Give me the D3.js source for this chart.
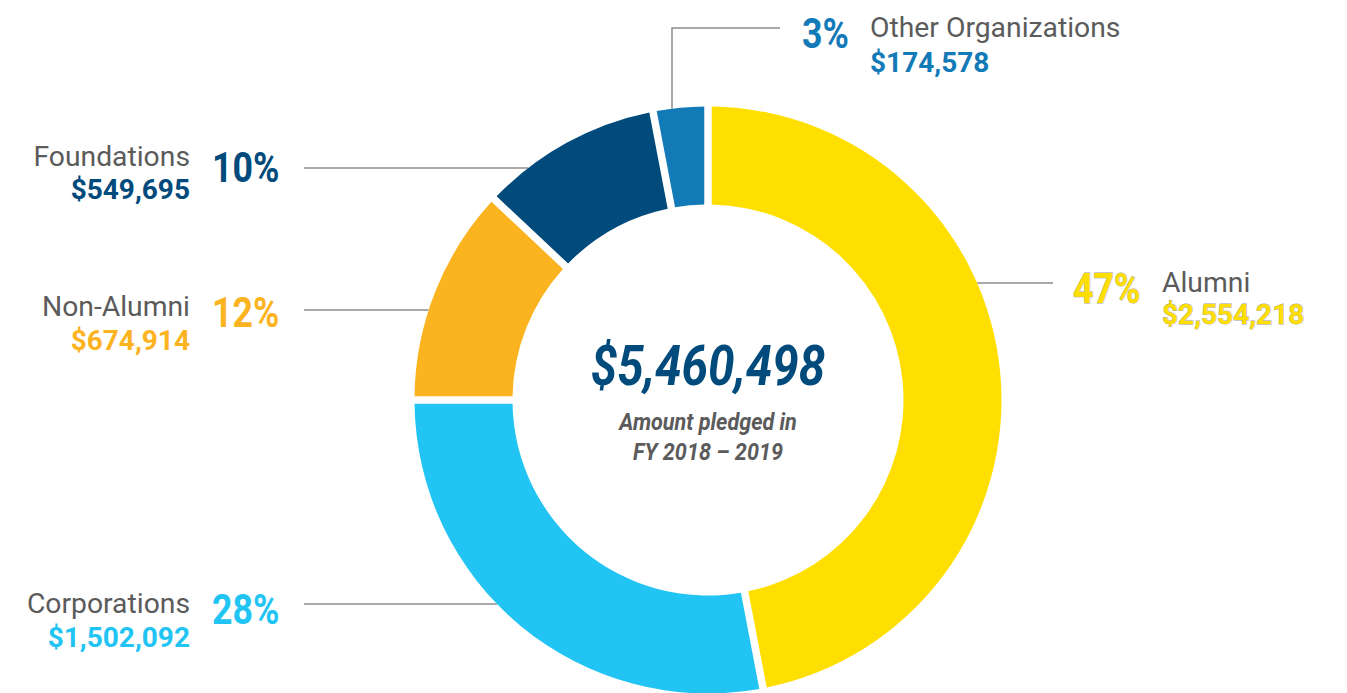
<!DOCTYPE html>
<html>
<head>
<meta charset="utf-8">
<script src="https://cdn.jsdelivr.net/npm/d3@7"></script>
<style>
  body { margin: 0; background: #fff; }
  text { font-family: Roboto, "Open Sans", sans-serif; }
</style>
</head>
<body>
<div id="chart"></div>
<script>
// data
var categories = ["Alumni", "Corporations", "Non-Alumni", "Foundations", "Other Organizations"];
var percents = [47, 28, 12, 10, 3];
var amounts = [2554218, 1502092, 674914, 549695, 174578];
var totalPledged = 5460498;
var centerLines = ["Amount pledged in", "FY 2018 \u2013 2019"];

var palette = ["#ffdf00", "#21c4f3", "#fbb31f", "#004a7c", "#127ab7"];

var width = 1347,
    height = 693;

var cx = 708, cy = 400,
    outerR = 293.5, innerR = 195.5;

var labelGray = "#5b5b5b";
var lineGray = "#8c8c8c";
var condensed = 0.85;

var fmt = d3.format("$,");

var color = d3.scaleOrdinal()
    .domain(categories)
    .range(palette);

var svg = d3.select("#chart").append("svg")
    .attr("width", width)
    .attr("height", height);

var pie = d3.pie()
    .sort(null)
    .value(function (d) { return d.pct; });

var arc = d3.arc()
    .innerRadius(innerR)
    .outerRadius(outerR)
    .padRadius(outerR)
    .padAngle(7.5 / outerR);

var rows = categories.map(function (c, i) {
    return { name: c, pct: percents[i], amount: amounts[i] };
});

// label placement: side, y of leader line, baselines
var layout = {
    "Alumni":              { side: "right", lineY: 283, lineX: 1053, pctX: 1073, pctY: 303, textX: 1162, nameY: 292, valY: 324 },
    "Corporations":        { side: "left", lineY: 604, lineX: 304, pctX: 212, pctY: 624, textX: 190, nameY: 613, valY: 647 },
    "Non-Alumni":          { side: "left", lineY: 310, lineX: 304, pctX: 212, pctY: 327, textX: 190, nameY: 316, valY: 350 },
    "Foundations":         { side: "left", lineY: 168, lineX: 304, pctX: 212, pctY: 182, textX: 190, nameY: 166, valY: 199 },
    "Other Organizations": { side: "top", lineY: 28, lineX: 780, elbowX: 672, pctX: 802, pctY: 48, textX: 870, nameY: 37, valY: 72 }
};

// leader lines (drawn first, they stop at the ring edge)
var lines = svg.append("g");
rows.forEach(function (d) {
    var L = layout[d.name];
    var pts;
    if (L.side === "top") {
        var dx = L.elbowX - cx;
        var yEdge = cy - Math.sqrt(outerR * outerR - dx * dx);
        pts = [[L.lineX, L.lineY], [L.elbowX, L.lineY], [L.elbowX, yEdge]];
    } else {
        var dy = L.lineY - cy;
        var half = Math.sqrt(outerR * outerR - dy * dy);
        var xEdge = L.side === "left" ? cx - half : cx + half;
        pts = [[L.lineX, L.lineY], [xEdge, L.lineY]];
    }
    lines.append("path")
        .attr("d", d3.line()(pts))
        .attr("fill", "none")
        .attr("stroke", lineGray)
        .attr("stroke-width", 1.5);
});

// donut
svg.append("g")
    .attr("transform", "translate(" + cx + "," + cy + ")")
    .selectAll("path")
    .data(pie(rows))
    .enter()
    .append("path")
    .attr("d", arc)
    .attr("fill", function (d) { return color(d.data.name); });

// labels
var labels = svg.append("g");
rows.forEach(function (d) {
    var L = layout[d.name];
    var c = color(d.name);
    var isAlumni = d.name === "Alumni";
    var anchor = L.side === "left" ? "end" : "start";

    labels.append("text")
        .attr("transform", "translate(" + L.pctX + "," + L.pctY + ") scale(" + condensed + ",1)")
        .attr("font-size", 42)
        .attr("font-weight", 700)
        .attr("fill", c)
        .attr("stroke", isAlumni ? "#a0a0a0" : null)
        .attr("stroke-width", isAlumni ? 0.9 : null)
        .attr("paint-order", "stroke")
        .text(d.pct + "%");

    labels.append("text")
        .attr("x", L.textX)
        .attr("y", L.nameY)
        .attr("text-anchor", anchor)
        .attr("font-size", 28.3)
        .attr("fill", labelGray)
        .text(d.name);

    labels.append("text")
        .attr("x", L.textX)
        .attr("y", L.valY)
        .attr("text-anchor", anchor)
        .attr("font-size", 28)
        .attr("font-weight", 700)
        .attr("fill", c)
        .attr("stroke", isAlumni ? "#a0a0a0" : null)
        .attr("stroke-width", isAlumni ? 0.8 : null)
        .attr("paint-order", "stroke")
        .text(fmt(d.amount));
});

// centre
svg.append("text")
    .attr("transform", "translate(" + cx + ",385) scale(" + condensed + ",1)")
    .attr("text-anchor", "middle")
    .attr("font-size", 56)
    .attr("font-weight", 700)
    .attr("font-style", "italic")
    .attr("fill", "#004a7c")
    .text(fmt(totalPledged));

centerLines.forEach(function (t, i) {
    svg.append("text")
        .attr("transform", "translate(" + cx + "," + (430 + i * 30) + ") scale(0.9,1)")
        .attr("text-anchor", "middle")
        .attr("font-size", 24)
        .attr("font-weight", 700)
        .attr("font-style", "italic")
        .attr("fill", labelGray)
        .text(t);
});
</script>
</body>
</html>
